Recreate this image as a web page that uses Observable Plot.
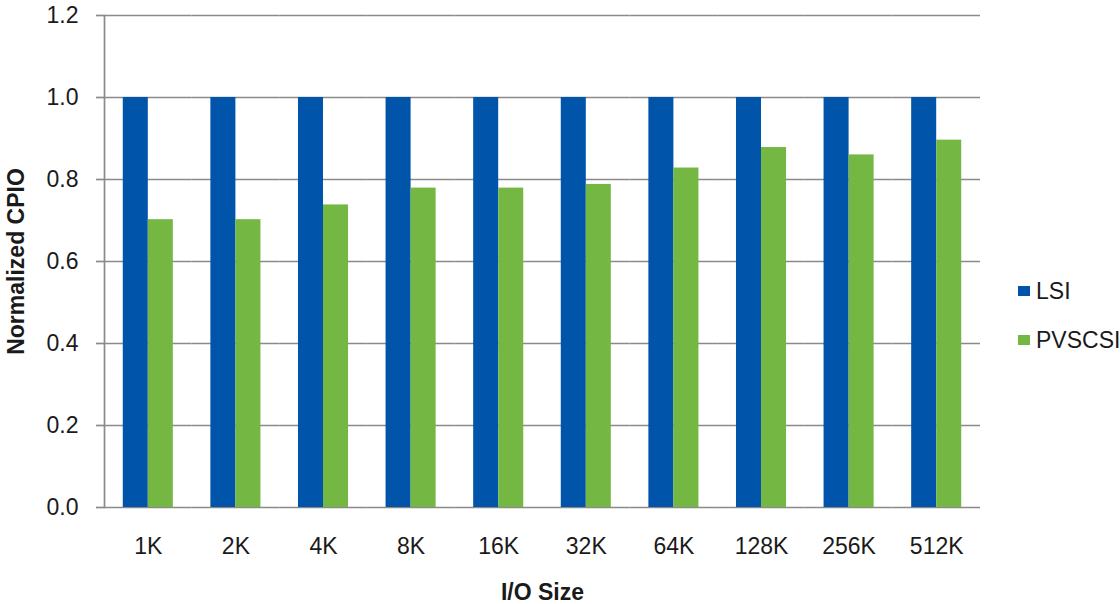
<!DOCTYPE html>
<html><head><meta charset="utf-8">
<script src="https://cdn.jsdelivr.net/npm/d3@7"></script>
<script src="https://cdn.jsdelivr.net/npm/@observablehq/plot@0.6"></script>
<style>
html,body{margin:0;padding:0;background:#fff;overflow:hidden;width:1120px;height:604px}
#chart{position:relative;width:1120px;height:604px;overflow:hidden}
.legend{position:absolute;left:1018px;font:23px "Liberation Sans",Arial,sans-serif;color:#1a1a1a;display:flex;align-items:center;white-space:nowrap;height:24px}
.sw{width:12px;height:10px;margin-right:6px}
</style></head><body><div id="chart"></div>
<script>
const categories = ["1K","2K","4K","8K","16K","32K","64K","128K","256K","512K"];
const series = ["LSI","PVSCSI"];
const lsiValues = [1,1,1,1,1,1,1,1,1,1];
const pvscsiValues = [0.702,0.702,0.738,0.779,0.779,0.788,0.828,0.878,0.860,0.896];
const yTicks = [0,0.2,0.4,0.6,0.8,1.0,1.2];
const colors = ["#0055AA","#74B843"];
const gridColor = "#8a8a8a";
const yTitle = "Normalized CPIO";
const xTitle = "I/O Size";

const data = categories.flatMap((c,i)=>[
  {cat:c, series:series[0], value:lsiValues[i]},
  {cat:c, series:series[1], value:pvscsiValues[i]}
]);

const plot = Plot.plot({
  width:1120, height:604,
  marginLeft:104, marginRight:140, marginTop:15, marginBottom:97,
  style:{fontFamily:'"Liberation Sans", Arial, sans-serif', fontSize:"23px", color:"#1a1a1a", background:"#fff", overflow:"visible"},
  fx:{domain:categories, padding:0, round:false, label:null},
  x:{domain:series, paddingInner:0, paddingOuter:0.75, round:false, axis:null},
  y:{domain:[0,1.2], label:null},
  color:{domain:series, range:colors},
  marks:[
    Plot.ruleY(yTicks, {stroke:gridColor, strokeWidth:1.7}),
    Plot.barY(data, {fx:"cat", x:"series", y:"value", fill:"series"}),
    Plot.axisY({ticks:yTicks, tickFormat:d3.format(".1f"), tickSize:8, tickPadding:18, stroke:gridColor, strokeWidth:1.7, fontSize:23,
      label:yTitle, labelAnchor:"center", labelOffset:97}),
    Plot.axisFx({anchor:"bottom", tickSize:0, tickPadding:30, fontSize:23, label:xTitle, labelAnchor:"center", labelOffset:92}),
    Plot.frame({anchor:"left", facetAnchor:"left", stroke:gridColor, strokeWidth:1.7})
  ]
});
const svg = d3.select(plot);
svg.selectAll('g[aria-label="y-axis label"] text').attr("font-weight","bold").attr("font-size", 23).text(yTitle);
svg.selectAll('g[aria-label="fx-axis label"] text').attr("font-weight","bold").attr("font-size", 23).text(xTitle);
const chart = document.getElementById("chart");
chart.appendChild(plot);
const legendTops = [279, 328];
series.forEach((s,i)=>{
  const d = document.createElement("div");
  d.className = "legend";
  d.style.top = legendTops[i] + "px";
  d.innerHTML = `<span class="sw" style="background:${colors[i]}"></span><span>${s}</span>`;
  chart.appendChild(d);
});
</script></body></html>
